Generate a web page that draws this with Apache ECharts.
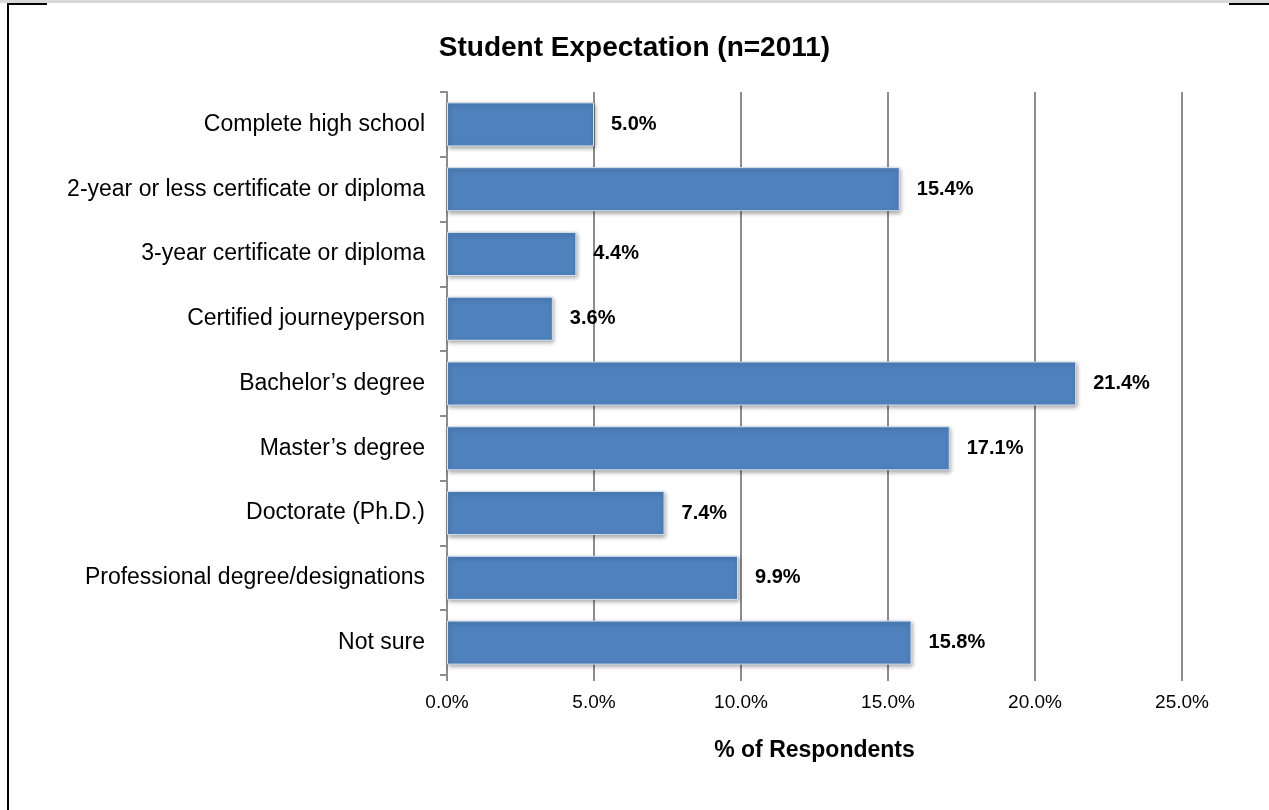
<!DOCTYPE html>
<html>
<head>
<meta charset="utf-8">
<style>
  html, body { margin: 0; padding: 0; background: #fff; }
  #chart { width: 1269px; height: 810px; }
</style>
<script src="https://cdn.jsdelivr.net/npm/echarts@6/dist/echarts.min.js"></script>
</head>
<body>
<div id="chart"></div>
<script>
// Expected education level reported by students
const categories = [
  'Complete high school',
  '2-year or less certificate or diploma',
  '3-year certificate or diploma',
  'Certified journeyperson',
  'Bachelor\u2019s degree',
  'Master\u2019s degree',
  'Doctorate (Ph.D.)',
  'Professional degree/designations',
  'Not sure'
];
const percentages = [5.0, 15.4, 4.4, 3.6, 21.4, 17.1, 7.4, 9.9, 15.8];
const titleText = 'Student Expectation (n=2011)';
const axisTitle = '% of Respondents';

const chart = echarts.init(document.getElementById('chart'));
const font = '"Liberation Sans", Arial, sans-serif';

chart.setOption({
  animation: false,
  backgroundColor: '#ffffff',
  title: {
    text: titleText,
    left: 'center',
    top: 29,
    textStyle: { fontFamily: font, fontSize: 28, fontWeight: 'bold', color: '#000' }
  },
  grid: { left: 447, right: 87, top: 92, bottom: 135 },
  xAxis: {
    type: 'value',
    min: 0,
    max: 25,
    interval: 5,
    name: axisTitle,
    nameLocation: 'middle',
    nameGap: 64,
    nameTextStyle: { fontFamily: font, fontSize: 23, fontWeight: 'bold', color: '#000' },
    axisLine: { show: false },
    axisTick: { show: true, length: 6, lineStyle: { color: '#8c8c8c', width: 2 } },
    axisLabel: {
      margin: 18,
      fontFamily: font, fontSize: 19, color: '#000',
      formatter: v => v.toFixed(1) + '%'
    },
    splitLine: { show: true, lineStyle: { color: '#8c8c8c', width: 2 } }
  },
  yAxis: {
    type: 'category',
    data: categories,
    inverse: true,
    axisLine: { show: true, lineStyle: { color: '#8c8c8c', width: 2 } },
    axisTick: { show: true, length: 7, lineStyle: { color: '#8c8c8c', width: 2 } },
    axisLabel: { margin: 22, fontFamily: font, fontSize: 23, color: '#000' }
  },
  series: [{
    type: 'bar',
    data: percentages,
    barWidth: '68%',
    itemStyle: {
      color: '#4f81bd',
      borderColor: '#d6e2f0',
      borderWidth: 1,
      shadowColor: 'rgba(0,0,0,0.35)',
      shadowBlur: 4,
      shadowOffsetX: 1,
      shadowOffsetY: 2
    },
    label: {
      show: true,
      position: 'right',
      distance: 17,
      fontFamily: font,
      fontSize: 20,
      fontWeight: 'bold',
      color: '#000',
      formatter: p => p.value.toFixed(1) + '%'
    }
  }],
  graphic: [
    // page frame pieces
    { type: 'rect', shape: { x: 0, y: 0, width: 1269, height: 3 }, style: { fill: '#d9d9d9' } },
    { type: 'rect', shape: { x: 7, y: 3, width: 40, height: 2 }, style: { fill: '#000' } },
    { type: 'rect', shape: { x: 1229, y: 3, width: 40, height: 2 }, style: { fill: '#000' } },
    { type: 'rect', shape: { x: 7, y: 3, width: 2, height: 807 }, style: { fill: '#000' } }
  ]
});
</script>
</body>
</html>
